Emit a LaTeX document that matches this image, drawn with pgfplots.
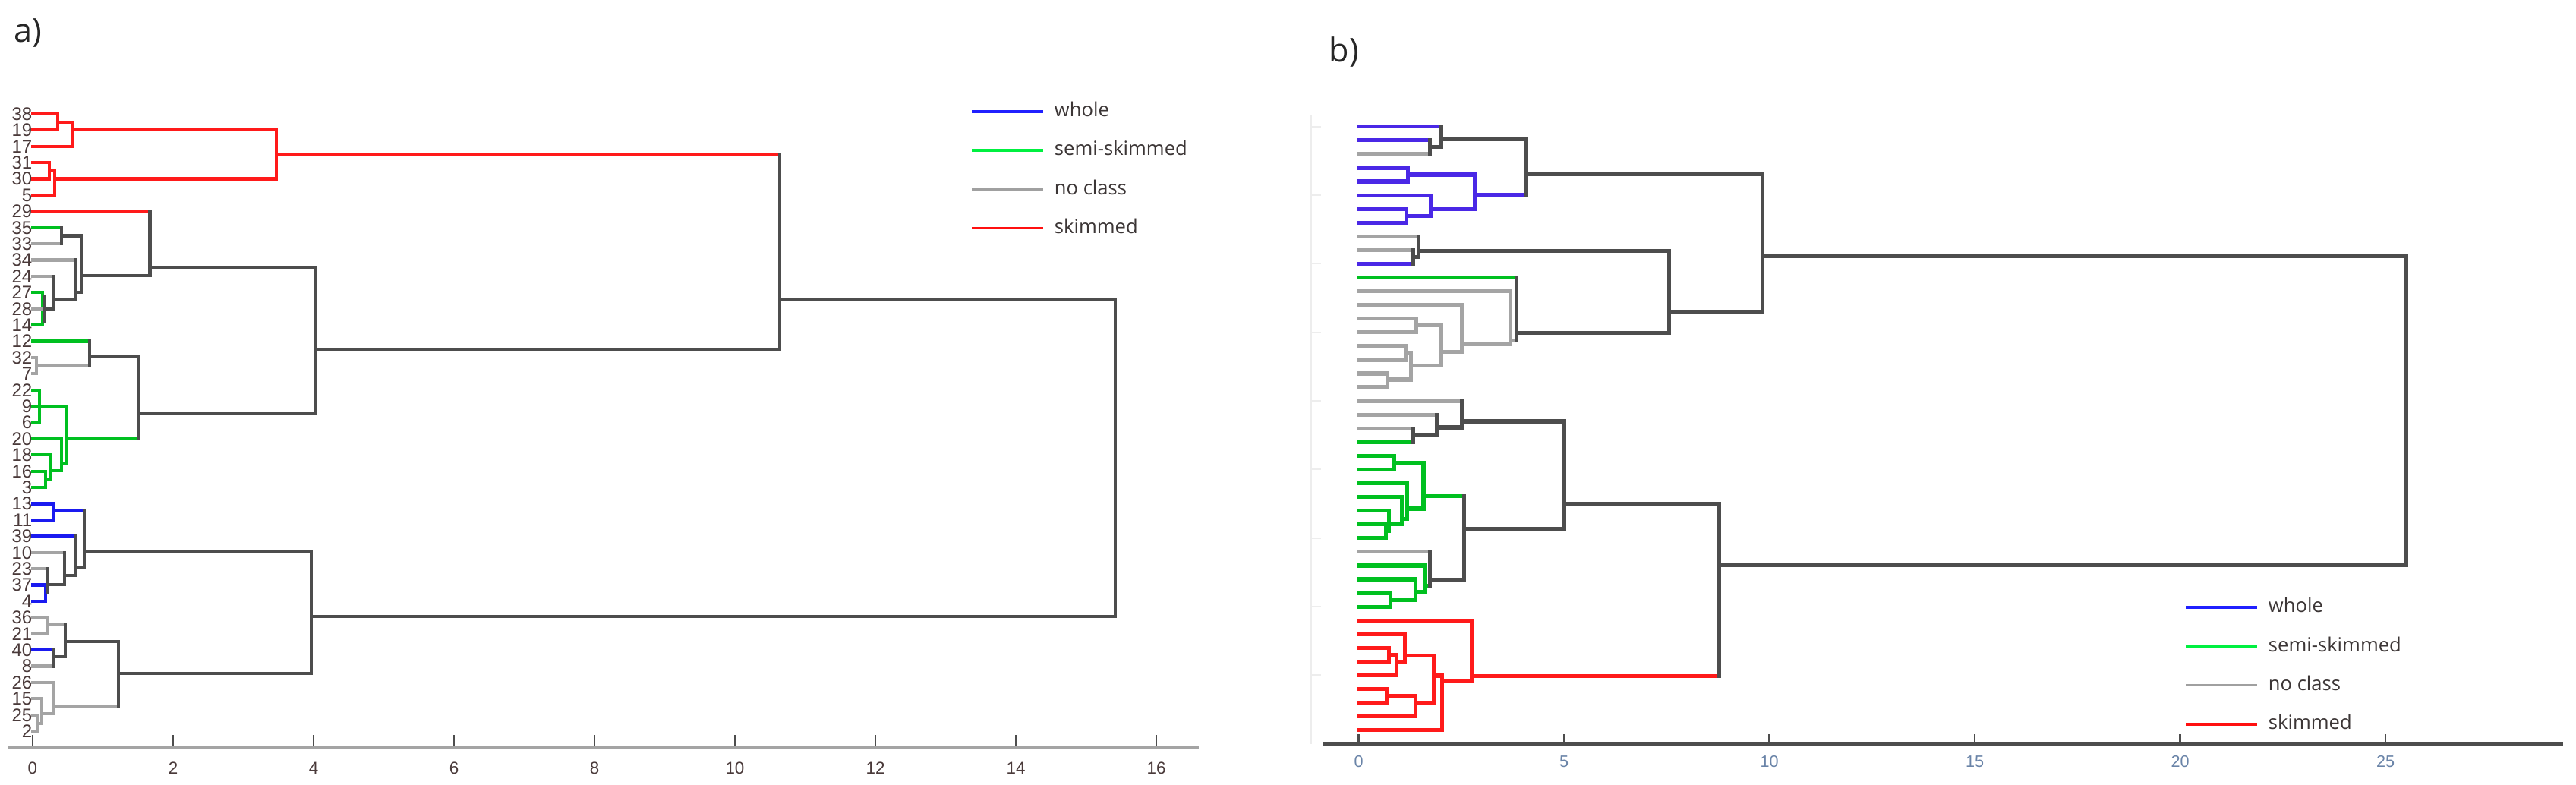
\documentclass[border=0pt]{standalone}
\usepackage{pgfplots}
\pgfplotsset{compat=1.18}
\usepackage{fontspec}
\setmainfont{Liberation Sans}
\newfontfamily\ui{Open Sans}

\definecolor{cR}{HTML}{FF1A1A}
\definecolor{cG}{HTML}{00C020}
\definecolor{cB}{HTML}{1A1AF0}
\definecolor{cBb}{HTML}{4A28E6}
\definecolor{cY}{HTML}{A4A4A4}
\definecolor{cD}{HTML}{4D4D4D}
\definecolor{lB}{HTML}{2020FF}
\definecolor{lG}{HTML}{00F040}
\definecolor{lY}{HTML}{A0A0A0}
\definecolor{lR}{HTML}{FF1010}
\definecolor{txt}{HTML}{4A3A3A}
\definecolor{legtxt}{HTML}{3C3636}
\definecolor{btick}{HTML}{6A84A8}

\tikzset{
  aR/.style={draw=cR, line width=1.05pt, line cap=rect},
  aG/.style={draw=cG, line width=1.05pt, line cap=rect},
  aB/.style={draw=cB, line width=1.05pt, line cap=rect},
  aY/.style={draw=cY, line width=1.05pt, line cap=rect},
  aD/.style={draw=cD, line width=1.05pt, line cap=rect},
  bR/.style={draw=cR, line width=1.3pt, line cap=rect},
  bG/.style={draw=cG, line width=1.3pt, line cap=rect},
  bB/.style={draw=cBb, line width=1.3pt, line cap=rect},
  bY/.style={draw=cY, line width=1.3pt, line cap=rect},
  bD/.style={draw=cD, line width=1.3pt, line cap=rect},
}

% one merge: #1 vertical, #2 arm 1 (#3 from height, #4 row), #5 arm 2 (#6, #7), #8 merge height
\newcommand\lnk[8]{%
  \addplot[#2] coordinates {(#3,#4) (#8,#4)};
  \addplot[#5] coordinates {(#6,#7) (#8,#7)};
  \addplot[#1] coordinates {(#8,#4) (#8,#7)};}

\pgfplotsset{
  legstyle/.style={
    legend style={draw=none, fill=none, inner sep=0pt, row sep=6.45pt,
      column sep=3.2pt, nodes={inner sep=0pt},
      font=\ui\fontsize{6.4}{7.5}\selectfont, text=legtxt},
    legend cell align=left,
    legend image code/.code={\draw[##1] (0pt,0pt) -- (23.5pt,0pt);},
  },
}

\begin{document}
\begin{tikzpicture}
\path[use as bounding box, fill=white] (0,0) rectangle (848.25pt,258.5pt);

% ---------- a) ----------
\begin{axis}[
  at={(2.65pt,12.35pt)}, anchor=south west, scale only axis,
  width=391.975pt, height=219.35pt,
  xmin=-0.35, xmax=16.6, ymin=0, ymax=41,
  axis x line=bottom, axis y line=left,
  x axis line style={-, draw=cY, line width=1.2pt},
  y axis line style={draw=none},
  xtick={0,2,...,16}, tick align=inside, major tick length=4.25pt,
  xtick style={draw=cD, line width=0.4pt},
  ytick={1,...,39}, ytick style={draw=none},
  yticklabels={2,25,15,26,8,40,21,36,4,37,23,10,39,11,13,3,16,18,20,6,
    9,22,7,32,12,14,28,27,24,34,33,35,29,5,30,31,17,19,38},
  xticklabel style={font=\fontsize{5.6}{6.5}\selectfont, text=txt, inner sep=0pt, yshift=-4.6pt},
  yticklabel style={font=\fontsize{6}{7}\selectfont, text=txt, inner sep=0pt, anchor=east, xshift=8.1pt},
  /pgf/number format/assume math mode=true,
  clip=false,
  legstyle,
  legend style={at={(0.8083,0.9702)}, anchor=north west},
]
\addlegendimage{draw=lB, line width=0.85pt}\addlegendentry{whole}
\addlegendimage{draw=lG, line width=0.85pt}\addlegendentry{semi-skimmed}
\addlegendimage{draw=lY, line width=0.85pt}\addlegendentry{no class}
\addlegendimage{draw=lR, line width=0.85pt}\addlegendentry{skimmed}

% skimmed group
\lnk{aR}{aR}{0}{39}{aR}{0}{38}{0.36}
\lnk{aR}{aR}{0.36}{38.5}{aR}{0}{37}{0.57}
\lnk{aR}{aR}{0}{36}{aR}{0}{35}{0.24}
\lnk{aR}{aR}{0.24}{35.5}{aR}{0}{34}{0.31}
\lnk{aR}{aR}{0.57}{38.0}{aR}{0.31}{35.0}{3.47}
% 29 ... 14
\lnk{aD}{aG}{0}{32}{aY}{0}{31}{0.41}
\lnk{aG}{aG}{0}{28}{aG}{0}{26}{0.14}
\addplot[aY] coordinates {(0,27) (0.17,27)};
\addplot[aD] coordinates {(0.17,27.8) (0.17,26.2)};
\lnk{aD}{aY}{0}{29}{aD}{0.17}{27}{0.30}
\lnk{aD}{aY}{0}{30}{aD}{0.30}{27.55}{0.605}
\lnk{aD}{aD}{0.41}{31.5}{aD}{0.605}{28.02}{0.695}
\lnk{aD}{aR}{0}{33}{aD}{0.695}{29.03}{1.67}
% 12 ... 3
\lnk{aY}{aY}{0}{24}{aY}{0}{23}{0.05}
\lnk{aD}{aG}{0}{25}{aY}{0.05}{23.5}{0.81}
\lnk{aG}{aG}{0}{22}{aG}{0}{20}{0.10}
\lnk{aG}{aG}{0}{17}{aG}{0}{16}{0.18}
\lnk{aG}{aG}{0}{18}{aG}{0.18}{16.5}{0.26}
\lnk{aG}{aG}{0}{19}{aG}{0.26}{17.04}{0.41}
\lnk{aG}{aG}{0}{21}{aG}{0.41}{17.5}{0.49}
\lnk{aD}{aD}{0.81}{24.05}{aG}{0.49}{19.06}{1.51}
\lnk{aD}{aD}{1.67}{29.57}{aD}{1.51}{20.54}{4.03}
\lnk{aD}{aR}{3.47}{36.54}{aD}{4.03}{24.51}{10.64}
% whole / no class group
\lnk{aB}{aB}{0}{15}{aB}{0}{14}{0.30}
\lnk{aB}{aB}{0}{10}{aB}{0}{9}{0.18}
\lnk{aD}{aY}{0}{11}{aB}{0.18}{9.56}{0.22}
\lnk{aD}{aY}{0}{12}{aD}{0.22}{10.03}{0.45}
\lnk{aD}{aB}{0}{13}{aD}{0.45}{10.57}{0.605}
\lnk{aD}{aB}{0.30}{14.55}{aD}{0.605}{11.04}{0.735}
\lnk{aY}{aY}{0}{8}{aY}{0}{7}{0.21}
\lnk{aD}{aB}{0}{6}{aY}{0}{5}{0.30}
\lnk{aD}{aY}{0.21}{7.54}{aD}{0.30}{5.59}{0.465}
\lnk{aY}{aY}{0}{2}{aY}{0}{1}{0.076}
\lnk{aY}{aY}{0}{3}{aY}{0.076}{1.46}{0.13}
\lnk{aY}{aY}{0}{4}{aY}{0.13}{2.08}{0.30}
\lnk{aD}{aD}{0.465}{6.52}{aY}{0.30}{2.55}{1.22}
\lnk{aD}{aD}{0.735}{12.05}{aD}{1.22}{4.57}{3.97}
% root
\lnk{aD}{aD}{10.64}{27.57}{aD}{3.97}{8.08}{15.42}
\end{axis}

% ---------- b) ----------
\begin{axis}[
  at={(435.75pt,13.54pt)}, anchor=south west, scale only axis,
  width=408.25pt, height=212.3pt,
  xmin=-0.8595, xmax=29.325, ymin=0, ymax=47,
  axis x line=bottom, axis y line=none,
  x axis line style={-, draw=cD, line width=1.4pt},
  xtick={0,5,...,25}, tick align=inside, major tick length=3.25pt,
  xtick style={draw=cD, line width=0.6pt},
  ytick=\empty,
  xticklabel style={font=\fontsize{5.4}{6.5}\selectfont, text=btick, inner sep=0pt, yshift=-3.8pt},
  /pgf/number format/assume math mode=true,
  clip=false,
  legstyle,
  legend style={at={(0.6944,0.2275)}, anchor=north west},
]
\addlegendimage{draw=lB, line width=0.85pt}\addlegendentry{whole}
\addlegendimage{draw=lG, line width=0.85pt}\addlegendentry{semi-skimmed}
\addlegendimage{draw=lY, line width=0.85pt}\addlegendentry{no class}
\addlegendimage{draw=lR, line width=0.85pt}\addlegendentry{skimmed}

% faint left axis
\draw[draw=black!7, line width=0.5pt] (axis cs:-1.155,0) -- (axis cs:-1.155,45.8);
\draw[draw=black!7, line width=0.5pt]
  (axis cs:-1.155,45) -- (axis cs:-0.92,45) (axis cs:-1.155,40) -- (axis cs:-0.92,40)
  (axis cs:-1.155,35) -- (axis cs:-0.92,35) (axis cs:-1.155,30) -- (axis cs:-0.92,30)
  (axis cs:-1.155,25) -- (axis cs:-0.92,25) (axis cs:-1.155,20) -- (axis cs:-0.92,20)
  (axis cs:-1.155,15) -- (axis cs:-0.92,15) (axis cs:-1.155,10) -- (axis cs:-0.92,10)
  (axis cs:-1.155,5) -- (axis cs:-0.92,5);

% whole group
\lnk{bD}{bB}{0}{44}{bY}{0}{43}{1.73}
\lnk{bD}{bB}{0}{45}{bD}{1.73}{43.5}{2.02}
\lnk{bB}{bB}{0}{42}{bB}{0}{41}{1.20}
\lnk{bB}{bB}{0}{39}{bB}{0}{38}{1.17}
\lnk{bB}{bB}{0}{40}{bB}{1.17}{38.5}{1.75}
\lnk{bB}{bB}{1.20}{41.5}{bB}{1.75}{39.0}{2.83}
\lnk{bD}{bD}{2.02}{44.08}{bB}{2.83}{40.02}{4.06}
% no class group
\lnk{bD}{bY}{0}{36}{bB}{0}{35}{1.33}
\lnk{bD}{bY}{0}{37}{bD}{1.33}{35.5}{1.46}
\lnk{bY}{bY}{0}{27}{bY}{0}{26}{0.70}
\lnk{bY}{bY}{0}{29}{bY}{0}{28}{1.15}
\lnk{bY}{bY}{1.15}{28.53}{bY}{0.70}{26.56}{1.27}
\lnk{bY}{bY}{0}{31}{bY}{0}{30}{1.41}
\lnk{bY}{bY}{1.41}{30.5}{bY}{1.27}{27.57}{2.01}
\lnk{bY}{bY}{0}{32}{bY}{2.01}{28.59}{2.52}
\lnk{bY}{bY}{0}{33}{bY}{2.52}{29.14}{3.69}
\lnk{bD}{bG}{0}{34}{bY}{3.69}{29.42}{3.85}
\lnk{bD}{bD}{1.46}{35.96}{bD}{3.85}{29.97}{7.56}
\lnk{bD}{bD}{4.06}{41.54}{bD}{7.56}{31.52}{9.84}
% semi-skimmed group
\lnk{bD}{bY}{0}{23}{bG}{0}{22}{1.33}
\lnk{bD}{bY}{0}{24}{bD}{1.33}{22.5}{1.91}
\lnk{bD}{bY}{0}{25}{bD}{1.91}{23.07}{2.52}
\lnk{bG}{bG}{0}{21}{bG}{0}{20}{0.86}
\lnk{bG}{bG}{0}{16}{bG}{0}{15}{0.67}
\lnk{bG}{bG}{0}{17}{bG}{0.67}{15.5}{0.74}
\lnk{bG}{bG}{0}{18}{bG}{0.74}{16.04}{1.06}
\lnk{bG}{bG}{0}{19}{bG}{1.06}{16.41}{1.18}
\lnk{bG}{bG}{0.86}{20.5}{bG}{1.18}{17.15}{1.58}
\lnk{bG}{bG}{0}{11}{bG}{0}{10}{0.77}
\lnk{bG}{bG}{0}{12}{bG}{0.77}{10.5}{1.38}
\lnk{bG}{bG}{0}{13}{bG}{1.38}{11.06}{1.61}
\lnk{bD}{bY}{0}{14}{bG}{1.61}{11.52}{1.73}
\lnk{bD}{bG}{1.58}{18.07}{bD}{1.73}{11.98}{2.57}
\lnk{bD}{bD}{2.52}{23.51}{bD}{2.57}{15.67}{5.01}
% skimmed group
\lnk{bR}{bR}{0}{7}{bR}{0}{6}{0.74}
\lnk{bR}{bR}{0.74}{6.5}{bR}{0}{5}{0.92}
\lnk{bR}{bR}{0}{8}{bR}{0.92}{5.99}{1.12}
\lnk{bR}{bR}{0}{4}{bR}{0}{3}{0.68}
\lnk{bR}{bR}{0.68}{3.5}{bR}{0}{2}{1.38}
\lnk{bR}{bR}{1.12}{6.45}{bR}{1.38}{2.94}{1.84}
\lnk{bR}{bR}{1.84}{4.97}{bR}{0}{1}{2.03}
\lnk{bR}{bR}{0}{9}{bR}{2.03}{4.60}{2.75}
\lnk{bD}{bD}{5.01}{17.49}{bR}{2.75}{4.95}{8.77}
% root
\lnk{bD}{bD}{9.84}{35.58}{bD}{8.77}{13.05}{25.5}
\end{axis}

\node[anchor=base west, inner sep=0pt, font=\ui\fontsize{10.8}{12}\selectfont, text=black!85] at (4.5pt,244.5pt) {a)};
\node[anchor=base west, inner sep=0pt, font=\ui\fontsize{10.8}{12}\selectfont, text=black!85] at (437.5pt,238pt) {b)};
\end{tikzpicture}
\end{document}
